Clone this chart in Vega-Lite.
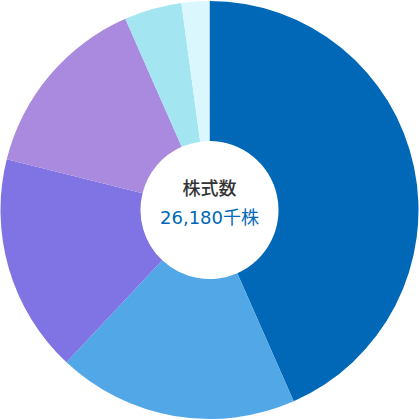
{
  "$schema": "https://vega.github.io/schema/vega-lite/v6.json",
  "width": 419,
  "height": 420,
  "autosize": {"type": "fit", "contains": "padding"},
  "padding": 0,
  "background": "white",
  "config": {"view": {"stroke": null}},
  "layer": [
    {
      "data": {"values": [
        {"cat": "A", "value": 43.4, "ord": 1},
        {"cat": "B", "value": 18.6, "ord": 2},
        {"cat": "C", "value": 16.9, "ord": 3},
        {"cat": "D", "value": 14.5, "ord": 4},
        {"cat": "E", "value": 4.45, "ord": 5},
        {"cat": "F", "value": 2.15, "ord": 6}
      ]},
      "mark": {"type": "arc", "outerRadius": 209, "innerRadius": 69},
      "encoding": {
        "theta": {"field": "value", "type": "quantitative", "stack": true},
        "order": {"field": "ord", "type": "quantitative"},
        "color": {
          "field": "cat", "type": "nominal", "legend": null,
          "scale": {"domain": ["A","B","C","D","E","F"], "range": ["#0068b7","#52a7e7","#8073e4","#a98ade","#a3e6f2","#daf7fd"]}
        }
      }
    },
    {
      "data": {"values": [{"t": "株式数"}]},
      "mark": {"type": "text", "dy": -20, "fontSize": 18, "font": "Noto Sans CJK JP", "fontWeight": 500, "color": "#333333"},
      "encoding": {"text": {"field": "t"}}
    },
    {
      "data": {"values": [{"t": "26,180千株"}]},
      "mark": {"type": "text", "dy": 9, "fontSize": 18, "font": "DejaVu Sans, Noto Sans CJK JP", "fontWeight": 400, "color": "#0068b7"},
      "encoding": {"text": {"field": "t"}}
    }
  ]
}
